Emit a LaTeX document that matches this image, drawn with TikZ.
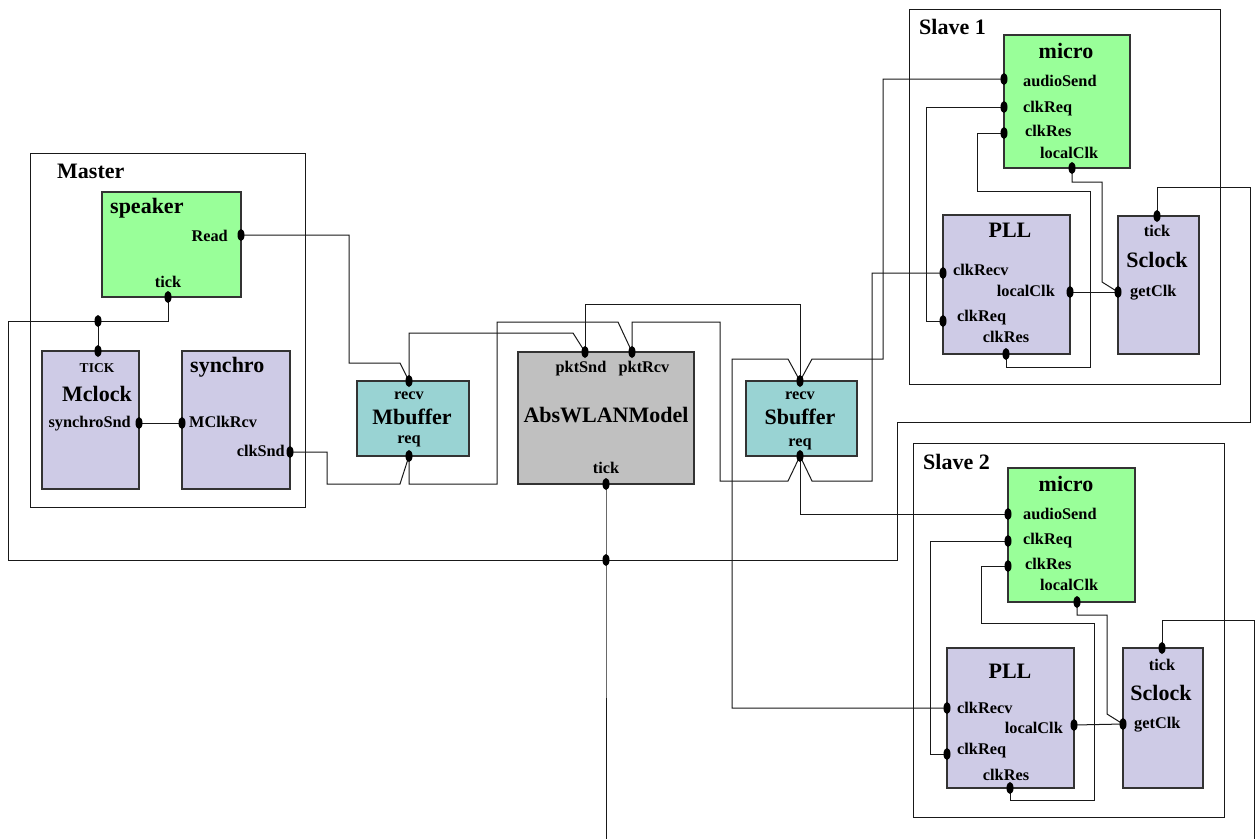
\documentclass[tikz,border=0pt]{standalone}
\usepackage{fontspec}
\setmainfont{Liberation Serif}
\usetikzlibrary{shapes.geometric}
\definecolor{cgreen}{RGB}{153,255,153}
\definecolor{cpurple}{RGB}{206,203,230}
\definecolor{cteal}{RGB}{153,211,211}
\definecolor{cgray}{RGB}{192,192,192}
\begin{document}
\begin{tikzpicture}[x=1pt,y=-1pt,
  grp/.style={draw=black!90, line width=1pt, inner sep=0pt, outer sep=0pt, anchor=north west},
  box/.style={draw=black!80, line width=1.2pt, inner sep=0pt, outer sep=0pt, anchor=north west},
  wire/.style={draw=black!90, line width=1pt},
  port/.style={ellipse, fill=black, inner sep=0pt, minimum width=7pt, minimum height=12pt},
  lbl/.style={font=\bfseries\fontsize{16.3}{18}\selectfont, inner sep=0pt, anchor=base},
  lblw/.style={lbl, anchor=base west},
  lble/.style={lbl, anchor=base east},
  ttl/.style={font=\bfseries\fontsize{22}{24}\selectfont, inner sep=0pt, anchor=base},
  ttlw/.style={ttl, anchor=base west},
]
\useasboundingbox (0,0) rectangle (1260,839);
\fill[white] (0,0) rectangle (1260,839);

% group boxes
\node[grp, minimum width=275pt, minimum height=354pt] (master) at (30,153) {};
\node[grp, minimum width=311pt, minimum height=375pt] (slave1) at (909,9) {};
\node[grp, minimum width=311pt, minimum height=374pt] (slave2) at (913,443) {};

% components
\node[box, fill=cgreen,  minimum width=139pt, minimum height=105pt] (speaker) at (102,192) {};
\node[box, fill=cpurple, minimum width=97pt,  minimum height=138pt] (mclock) at (42,351) {};
\node[box, fill=cpurple, minimum width=108pt, minimum height=138pt] (synchro) at (182,351) {};
\node[box, fill=cteal,   minimum width=112pt, minimum height=75pt] (mbuffer) at (357,381) {};
\node[box, fill=cgray,   minimum width=176pt, minimum height=132pt] (abs) at (518,352) {};
\node[box, fill=cteal,   minimum width=111pt, minimum height=75pt] (sbuffer) at (746,381) {};
\node[box, fill=cgreen,  minimum width=126pt, minimum height=133pt] (micro1) at (1004,35) {};
\node[box, fill=cpurple, minimum width=127pt, minimum height=139pt] (pll1) at (943,215) {};
\node[box, fill=cpurple, minimum width=81pt,  minimum height=138pt] (sclock1) at (1118,216) {};
\node[box, fill=cgreen,  minimum width=127pt, minimum height=134pt] (micro2) at (1008,468) {};
\node[box, fill=cpurple, minimum width=127pt, minimum height=140pt] (pll2) at (947,648) {};
\node[box, fill=cpurple, minimum width=80pt,  minimum height=140pt] (sclock2) at (1123,648) {};

% texts
\node[ttlw] (tMaster) at (57,178) {Master};
\node[ttlw] (tSlave1) at (919,34) {Slave 1};
\node[ttlw] (tSlave2) at (923,469) {Slave 2};

\node[ttlw] (tSpeaker) at (110,213) {speaker};
\node[lble] (tRead) at (228,241) {Read};
\node[lbl] (tSpTick) at (168,287) {tick};

\node[lbl, font=\bfseries\fontsize{13.5}{15}\selectfont] (tTICK) at (97,372) {TICK};
\node[ttl] (tMclock) at (97,401) {Mclock};
\node[lble] (tSynSnd) at (131,427) {synchroSnd};

\node[ttlw] (tSynchro) at (190,372) {synchro};
\node[lblw] (tMClkRcv) at (189,427) {MClkRcv};
\node[lble] (tClkSnd) at (285,456) {clkSnd};

\node[lbl] (tMbRecv) at (409,399) {recv};
\node[ttl] (tMbuffer) at (412,424) {Mbuffer};
\node[lbl] (tMbReq) at (409,443) {req};

\node[lbl] (tPktSnd) at (581,372) {pktSnd};
\node[lbl] (tPktRcv) at (644,372) {pktRcv};
\node[ttl] (tAbs) at (606,422) {AbsWLANModel};
\node[lbl] (tAbsTick) at (606,473) {tick};

\node[lbl] (tSbRecv) at (800,399) {recv};
\node[ttl] (tSbuffer) at (800,424) {Sbuffer};
\node[lbl] (tSbReq) at (800,446) {req};

% slave 1 texts
\node[ttl] (tMicro1) at (1066,58) {micro};
\node[lblw] (tAud1) at (1023,86) {audioSend};
\node[lblw] (tReq1) at (1023,112) {clkReq};
\node[lblw] (tRes1) at (1025,136) {clkRes};
\node[lblw] (tLoc1) at (1040,158) {localClk};
\node[ttl] (tPll1) at (1010,237) {PLL};
\node[lblw] (tPRecv1) at (953,275) {clkRecv};
\node[lble] (tPLoc1) at (1055,296) {localClk};
\node[lblw] (tPReq1) at (957,321) {clkReq};
\node[lbl] (tPRes1) at (1006,342) {clkRes};
\node[lbl] (tSTick1) at (1157,236) {tick};
\node[ttl] (tSclock1) at (1157,267) {Sclock};
\node[lblw] (tGet1) at (1130,296) {getClk};

% slave 2 texts
\node[ttl] (tMicro2) at (1066,491) {micro};
\node[lblw] (tAud2) at (1023,519) {audioSend};
\node[lblw] (tReq2) at (1023,544) {clkReq};
\node[lblw] (tRes2) at (1025,569) {clkRes};
\node[lblw] (tLoc2) at (1040,590) {localClk};
\node[ttl] (tPll2) at (1010,678) {PLL};
\node[lblw] (tPRecv2) at (957,713) {clkRecv};
\node[lble] (tPLoc2) at (1063,733) {localClk};
\node[lblw] (tPReq2) at (957,754) {clkReq};
\node[lbl] (tPRes2) at (1006,780) {clkRes};
\node[lbl] (tSTick2) at (1162,670) {tick};
\node[ttl] (tSclock2) at (1161,700) {Sclock};
\node[lblw] (tGet2) at (1134,728) {getClk};

% port positions
\coordinate (spRead) at (241,235);
\coordinate (spTick) at (168,297);
\coordinate (mcTick) at (98,351);
\coordinate (mcSyn) at (139,423);
\coordinate (syRcv) at (182,423);
\coordinate (syClk) at (290,452);
\coordinate (mbRecv) at (409,381);
\coordinate (mbReq) at (409,456);
\coordinate (abSnd) at (585,352);
\coordinate (abRcv) at (632,352);
\coordinate (abTick) at (606,484);
\coordinate (sbRecv) at (800,381);
\coordinate (sbReq) at (800,456);
\coordinate (m1Audio) at (1004,79);
\coordinate (m1Req) at (1004,107);
\coordinate (m1Res) at (1004,133);
\coordinate (m1Loc) at (1072,168);
\coordinate (p1Recv) at (943,273);
\coordinate (p1Loc) at (1070,292);
\coordinate (p1Req) at (943,321);
\coordinate (p1Res) at (1006,354);
\coordinate (s1Tick) at (1157,216);
\coordinate (s1Get) at (1118,292);
\coordinate (m2Audio) at (1008,514);
\coordinate (m2Req) at (1008,541);
\coordinate (m2Res) at (1008,566);
\coordinate (m2Loc) at (1077,602);
\coordinate (p2Recv) at (947,708);
\coordinate (p2Loc) at (1074,725);
\coordinate (p2Req) at (947,754);
\coordinate (p2Res) at (1010,788);
\coordinate (s2Tick) at (1162,648);
\coordinate (s2Get) at (1123,724);
\coordinate (j1) at (98,321);
\coordinate (j2) at (606,560);
\coordinate (bottomA) at (606,839);
\coordinate (bottomB) at (1254,839);

% wires
\draw[wire] (spTick) -- (168,321) -- (j1);
\draw[wire] (mcTick) -- (j1);
\draw[wire] (j1) -- (8,321) -- (8,560) -- (j2) -- (897,560) -- (897,422) -- (1250,422) -- (1250,187) -- (1157,187) -- (s1Tick);
\draw[wire] (abTick) -- (j2) -- (bottomA);
\draw[wire] (mcSyn) -- (syRcv);
\draw[wire] (spRead) -- (349,235) -- (349,363) -- (400,363) -- (mbRecv);
\draw[wire] (syClk) -- (327,452) -- (327,484) -- (400,484) -- (mbReq);
\draw[wire] (mbRecv) -- (409,333) -- (573,333) -- (abSnd);
\draw[wire] (mbReq) -- (409,484) -- (497,484) -- (497,322) -- (618,322) -- (abRcv);
\draw[wire] (abSnd) -- (585,304) -- (800,304) -- (sbRecv);
\draw[wire] (abRcv) -- (632,322) -- (720,322) -- (720,481) -- (788,481) -- (sbReq);
\draw[wire] (m1Audio) -- (883,79) -- (883,359) -- (812,359) -- (sbRecv);
\draw[wire] (p1Recv) -- (872,273) -- (872,481) -- (812,481) -- (sbReq);
\draw[wire] (p2Recv) -- (732,708) -- (732,359) -- (788,359) -- (sbRecv);
\draw[wire] (m2Audio) -- (800,514) -- (sbReq);
% slave 1 internal
\draw[wire] (m1Loc) -- (1072,182) -- (1102,182) -- (1102,282) -- (s1Get);
\draw[wire] (p1Loc) -- (s1Get);
\draw[wire] (m1Req) -- (926,107) -- (926,321) -- (p1Req);
\draw[wire] (m1Res) -- (977,133) -- (977,191) -- (1090,191) -- (1090,367) -- (1006,367) -- (p1Res);
% slave 2 internal
\draw[wire] (m2Loc) -- (1077,615) -- (1107,615) -- (1107,714) -- (s2Get);
\draw[wire] (p2Loc) -- (s2Get);
\draw[wire] (m2Req) -- (930,541) -- (930,754) -- (p2Req);
\draw[wire] (m2Res) -- (981,566) -- (981,623) -- (1094,623) -- (1094,800) -- (1010,800) -- (p2Res);
\draw[wire] (s2Tick) -- (1162,620) -- (1254,620) -- (bottomB);

% ports
\foreach \p in {spRead,spTick,mcTick,mcSyn,syRcv,syClk,mbRecv,mbReq,abSnd,abRcv,abTick,sbRecv,sbReq,
  m1Audio,m1Req,m1Res,m1Loc,p1Recv,p1Loc,p1Req,p1Res,s1Tick,s1Get,
  m2Audio,m2Req,m2Res,m2Loc,p2Recv,p2Loc,p2Req,p2Res,s2Tick,s2Get,j1,j2}
  \node[port] (port-\p) at (\p) {};
\end{tikzpicture}
\end{document}
